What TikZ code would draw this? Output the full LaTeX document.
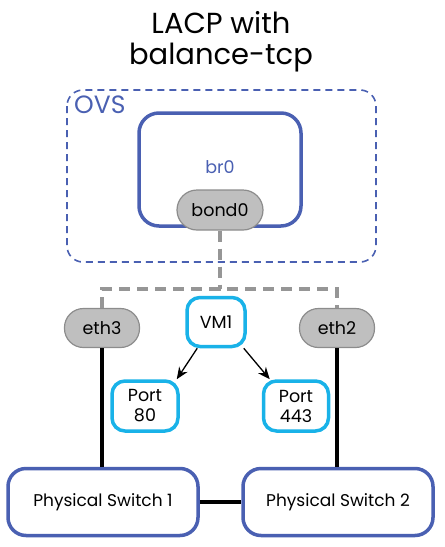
\documentclass[tikz,border=0pt]{standalone}
\usepackage{fontspec}
\setmainfont{Poppins}
\usetikzlibrary{arrows.meta}
\definecolor{ovsblue}{RGB}{74,96,178}
\definecolor{vmcyan}{RGB}{25,178,232}
\definecolor{pillgray}{RGB}{191,191,191}
\definecolor{pillline}{RGB}{140,140,140}
\definecolor{dashgray}{RGB}{150,150,150}
\tikzset{
  pill/.style={draw=pillline, fill=pillgray, line width=1.2pt, rounded corners=19pt, minimum width=75pt, minimum height=39pt, inner sep=0pt, font=\fontsize{17.5}{20}\selectfont},
  vmbox/.style={draw=vmcyan, fill=white, line width=3.5pt, rounded corners=13pt, inner sep=0pt, align=center, font=\fontsize{17.5}{20}\selectfont},
  switchbox/.style={draw=ovsblue, fill=white, line width=3.5pt, rounded corners=18pt, minimum width=190pt, minimum height=67pt, font=\fontsize{17}{20}\selectfont},
  wire/.style={line width=4.5pt, black},
  bondlink/.style={line width=3.5pt, dashgray, dash pattern=on 11pt off 7pt},
  flow/.style={-{Stealth[length=12pt,width=10pt]}, line width=1.3pt}
}
\begin{document}
\begin{tikzpicture}[x=1pt,y=-1pt]
			%%%%% START %%%%%
			\useasboundingbox (0,0) rectangle (445,547);
			
			\node[font=\fontsize{29}{31}\selectfont, align=center] (title) at (221,42) {LACP with\\balance-tcp};
			
			\draw[ovsblue, line width=1.6pt, dash pattern=on 7pt off 5pt, rounded corners=16pt] (67,90) rectangle (376,262);
			\node[ovsblue, font=\fontsize{25}{28}\selectfont, anchor=north west, inner sep=0pt] (ovs) at (74,96) {OVS};
			
			\draw[ovsblue, line width=3.5pt, rounded corners=20pt] (139,113) rectangle (301,226);
			\node[ovsblue, font=\fontsize{17.5}{20}\selectfont] (br) at (220,167) {br0};
			\node[pill, minimum width=86pt, minimum height=40pt, rounded corners=20pt] (bond) at (220,210) {bond0};
			
			\node[pill] (eth3) at (102,328) {eth3};
			\node[pill] (eth2) at (337,328) {eth2};
			\coordinate (split) at (220,289);
			\draw[bondlink] (bond.south) -- (split);
			\draw[bondlink] (eth3.north) |- (split) -| (eth2.north);
			
			\node[vmbox, minimum width=58pt, minimum height=49pt] (vm) at (216,322) {VM1};
			\node[vmbox, minimum width=66pt, minimum height=50pt] (port80) at (145,406) {Port\\80};
			\node[vmbox, minimum width=65pt, minimum height=50pt] (port443) at (296,406) {Port\\443};
			\draw[flow] (vm.south west) ++(12,0) -- ([xshift=-3pt]port80.north east);
			\draw[flow] (vm.south east) ++(-3,0) -- ([xshift=8pt]port443.north west);
			
			\node[switchbox] (sw1) at (103,502) {Physical Switch 1};
			\node[switchbox] (sw2) at (338,502) {Physical Switch 2};
			\draw[wire] (eth3.south) -- (sw1.north -| eth3.south);
			\draw[wire] (eth2.south) -- (sw2.north -| eth2.south);
			\draw[wire] (sw1.east) -- (sw2.west);
			%%%%% END %%%%%
\end{tikzpicture}
\end{document}
